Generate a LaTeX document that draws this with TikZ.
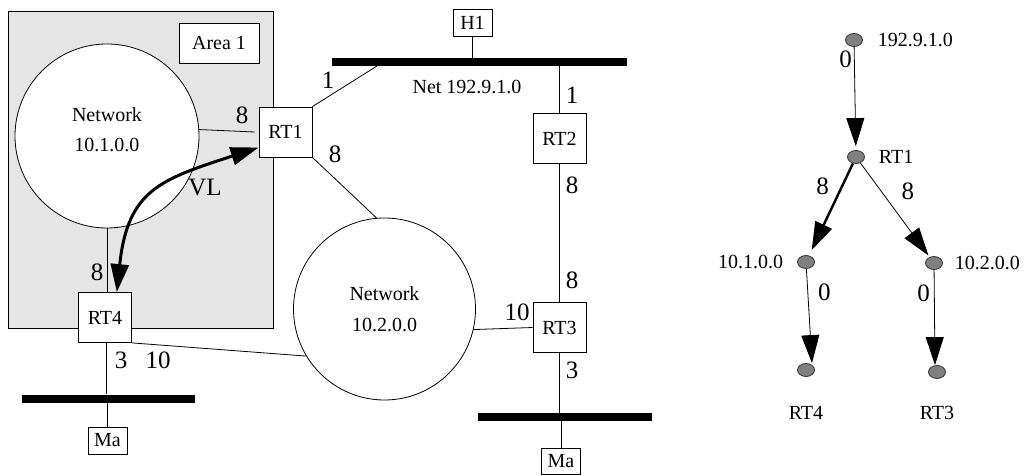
\documentclass[tikz,border=0pt]{standalone}
\usepackage{fontspec}
\setmainfont{Liberation Serif}
\usetikzlibrary{arrows.meta,positioning,shapes}

\begin{document}
\begin{tikzpicture}[
  x=0.5pt, y=-0.5pt,
  font=\fontsize{10}{12}\selectfont,
  >={Triangle[length=14pt,width=9pt]},
  rtbox/.style={rectangle, draw, fill=white, minimum width=26.5pt, minimum height=25pt, inner sep=0pt},
  hostbox/.style={rectangle, draw, fill=white, minimum width=19.5pt, minimum height=13.5pt, inner sep=0pt},
  netcircle/.style={circle, draw, fill=white, inner sep=0pt, align=center, font=\fontsize{10}{15.5}\selectfont},
  bus/.style={rectangle, fill=black, minimum height=4pt, inner sep=0pt},
  num/.style={font=\fontsize{12.5}{14}\selectfont, inner sep=1pt},
  tnode/.style={ellipse, draw=black!80, fill=black!50, minimum width=8.5pt, minimum height=6.5pt, inner sep=0pt},
  vl/.style={line width=1.5pt, <->}
]
\useasboundingbox (0,0) rectangle (1024,476);

% Area 1
\fill[black!10] (8,11) rectangle (273,328);
\draw (8,11) rectangle (273,328);
\node[draw, fill=white, minimum width=40pt, minimum height=20pt] (area) at (219,43) {Area 1};

% Netze und Router
\node[netcircle, minimum size=92pt] (net1) at (107,136) {};
\node[align=center, font=\fontsize{10}{15}\selectfont] (net1txt) at (107,130) {Network\\10.1.0.0};
\node[netcircle, minimum size=91pt] (net2) at (384.5,309) {Network\\10.2.0.0};

\node[rtbox] (RT1) at (285.5,132) {RT1};
\node[rtbox] (RT2) at (559.5,138.5) {RT2};
\node[rtbox] (RT3) at (559.5,327.5) {RT3};
\node[rtbox] (RT4) at (105,317.5) {RT4};

\node[bus, minimum width=147.5pt] (net) at (479.5,62) {};
\node[bus, minimum width=86.5pt] (bus1) at (108.5,398.5) {};
\node[bus, minimum width=87pt] (bus2) at (565,417) {};
\coordinate (tap1) at (377,66);

\node[hostbox] (H1) at (472.5,22.5) {H1};
\node[hostbox] (Ma1) at (107.5,440.5) {Ma};
\node[hostbox, minimum height=13pt] (Ma2) at (561,461) {Ma};

\node (netlbl) at (467,87) {Net 192.9.1.0};

% Verbindungen
\draw (net1.4) -- ([xshift=-2pt]RT1.west);
\draw (RT1.north east) -- (tap1);
\draw (H1.south) -- (H1 |- net.north);
\draw (RT2 |- net.south) -- (RT2.north);
\draw (RT2.south) -- (RT3.north);
\draw (RT1.south east) -- (net2.95);
\draw (net2.-13) -- (RT3.west);
\draw (RT3.south) -- (RT3 |- bus2.north);
\draw (Ma2.north) -- (Ma2 |- bus2.south);
\draw (net1.south) -- (net1.south |- RT4.north);
\draw (RT4.south east) -- (net2.211);
\draw ([xshift=0.5pt]RT4.south) -- ([xshift=0.5pt]RT4.south |- bus1.north);
\draw (Ma1.north) -- (Ma1 |- bus1.south);

% virtual link
\draw[vl] (RT4.65) to[out=84, in=198, looseness=1.3] (RT1.210);
\node[num] (vllbl) at (205,188) {VL};

% Kosten
\node[num] (c1) at (242,115) {8};
\node[num] (c2) at (328,80) {1};
\node[num] (c3) at (335,154) {8};
\node[num] (c4) at (572,95) {1};
\node[num] (c5) at (572,185) {8};
\node[num] (c6) at (572,280) {8};
\node[num] (c7) at (517,312) {10};
\node[num] (c8) at (572,370) {3};
\node[num] (c9) at (97,272) {8};
\node[num] (c10) at (121,360) {3};
\node[num] (c11) at (158,360) {10};

% Baum
\node[tnode] (t192) at (854,40) {};
\node[tnode] (tRT1) at (856,157) {};
\node[tnode] (t101) at (806,262) {};
\node[tnode] (t102) at (934,263) {};
\node[tnode] (tRT4) at (806,370) {};
\node[tnode] (tRT3) at (937,372) {};

\node[right=4pt of t192] {192.9.1.0};
\node[right=3.5pt of tRT1] {RT1};
\node[left=3.5pt of t101] {10.1.0.0};
\node[right=2.5pt of t102] {10.2.0.0};
\node[below=11pt of tRT4] {RT4};
\node[below=10pt of tRT3] {RT3};

\draw[->, shorten >=2pt] (t192) -- node[num, pos=0.12, left] {0} (tRT1);
\draw[->, line width=1.2pt, shorten >=3pt] (tRT1) -- node[num, pos=0.25, left=5pt] {8} (t101);
\draw[->, shorten >=1pt] (tRT1) -- node[num, pos=0.3, right=9pt] {8} (t102);
\draw[->] (t101) -- node[num, pos=0.25, right=4pt] {0} ([xshift=3pt]tRT4.north);
\draw[->] (t102) -- node[num, pos=0.25, left=1pt] {0} ([xshift=-1pt]tRT3.north);

\end{tikzpicture}
\end{document}
